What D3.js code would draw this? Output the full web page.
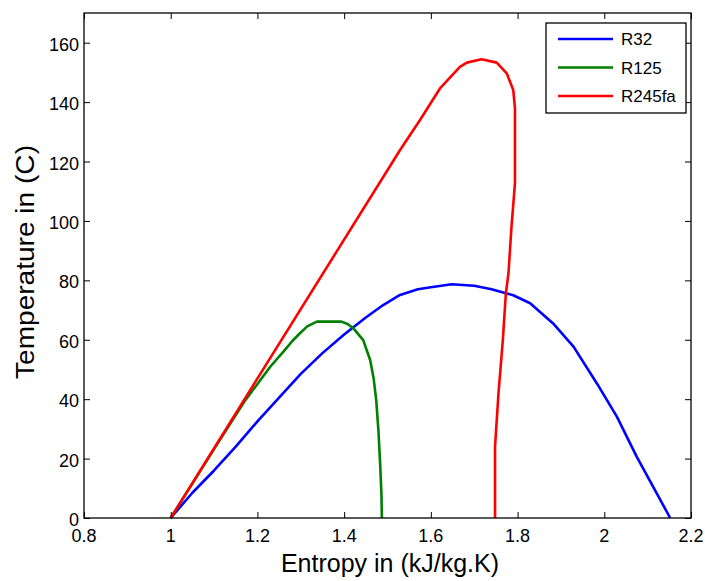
<!DOCTYPE html>
<html><head><meta charset="utf-8">
<script src="https://cdn.jsdelivr.net/npm/d3@7/dist/d3.min.js"></script>
<style>body{margin:0;background:#fff;} svg{display:block;font-family:"Liberation Sans",Arial,sans-serif;}</style>
</head><body>
<svg id="c" width="705" height="581"></svg>
<script>
const seriesNames = ["R32", "R125", "R245fa"];
const seriesColors = ["#0000ff", "#008000", "#ff0000"];
const r32S = [1.0, 1.05, 1.1, 1.15, 1.2, 1.25, 1.3, 1.35, 1.4, 1.45, 1.49, 1.529, 1.57, 1.6, 1.648, 1.70, 1.74, 1.79, 1.829, 1.882, 1.929, 1.983, 2.029, 2.075, 2.121, 2.152];
const r32T = [0, 8.5, 16, 24, 32.5, 40.5, 48.5, 55.5, 61.8, 67.5, 71.7, 75.1, 77, 77.7, 78.7, 78.2, 77, 75, 72.3, 65.5, 57.7, 45.3, 34.1, 20.6, 8.3, 0];
const r125S = [1.0, 1.1, 1.17, 1.206, 1.23, 1.26, 1.28, 1.298, 1.315, 1.337, 1.394, 1.408, 1.421, 1.444, 1.46, 1.468, 1.474, 1.479, 1.483, 1.486, 1.487];
const r125T = [0, 23.2, 39.2, 46.3, 51, 56, 59.5, 62.2, 64.5, 66.1, 66.1, 65.3, 63.9, 59.9, 53.2, 47, 39.7, 29.6, 18.4, 8, 0];
const r245S = [1.0, 1.198, 1.529, 1.575, 1.621, 1.667, 1.683, 1.717, 1.752, 1.775, 1.79, 1.794, 1.794, 1.786, 1.779, 1.773, 1.766, 1.756, 1.748, 1.748];
const r245T = [0, 46.5, 123.9, 134, 144.6, 151.9, 153.3, 154.4, 153.3, 149.7, 144.1, 137.9, 112.7, 98.1, 82.4, 75.6, 59.9, 42, 24, 0];
const xTicks = [0.8, 1, 1.2, 1.4, 1.6, 1.8, 2, 2.2];
const yTicks = [0, 20, 40, 60, 80, 100, 120, 140, 160];
const xLabel = "Entropy in (kJ/kg.K)";
const yLabel = "Temperature in (C)";

const FONT = '"Liberation Sans",Arial,sans-serif';
const svg = d3.select("#c");
const L = 84, R = 691, T = 13, B = 518;
const x = d3.scaleLinear().domain([0.8, 2.2]).range([L, R]);
const y = d3.scaleLinear().domain([0, 170]).range([B, T]);

const series = [
  {S: r32S, T: r32T}, {S: r125S, T: r125T}, {S: r245S, T: r245T}
];
const line = d3.line().x(d => x(d[0])).y(d => y(d[1]));
series.forEach((s, i) => {
  const pts = s.S.map((v, j) => [v, s.T[j]]);
  svg.append("path").attr("d", line(pts)).attr("fill", "none")
    .attr("stroke", seriesColors[i]).attr("stroke-width", 2.6).attr("stroke-linejoin", "round");
});

// axes (inward ticks, Matlab style)
const mk = (g, ax) => { g.call(ax); g.select(".domain").remove(); g.selectAll("line").attr("stroke", "#000"); g.selectAll("text").remove(); };
mk(svg.append("g").attr("transform", `translate(0,${B})`), d3.axisBottom(x).tickValues(xTicks).tickSize(-6).tickFormat(""));
mk(svg.append("g").attr("transform", `translate(0,${T})`), d3.axisTop(x).tickValues(xTicks).tickSize(-6).tickFormat(""));
mk(svg.append("g").attr("transform", `translate(${L},0)`), d3.axisLeft(y).tickValues(yTicks).tickSize(-6).tickFormat(""));
mk(svg.append("g").attr("transform", `translate(${R},0)`), d3.axisRight(y).tickValues(yTicks).tickSize(-6).tickFormat(""));
svg.append("rect").attr("x", L).attr("y", T).attr("width", R - L).attr("height", B - T)
  .attr("fill", "none").attr("stroke", "#000").attr("stroke-width", 1.3);

const TS = 18;
xTicks.forEach(v => {
  svg.append("text").attr("x", x(v)).attr("y", 541.5)
    .attr("text-anchor", "middle").attr("font-size", TS).style("font-family", FONT).text(String(v));
});
yTicks.forEach(v => {
  svg.append("text").attr("x", 79).attr("y", y(v) + 1.5)
    .attr("text-anchor", "end").attr("dy", "0.36em").attr("font-size", TS).style("font-family", FONT).text(String(v));
});

svg.append("text").attr("transform", `translate(390,572)`).attr("text-anchor", "middle")
  .attr("font-size", 25).style("font-family", FONT).text(xLabel);
svg.append("text").attr("transform", `translate(34,262) scale(1,1.08) rotate(-90)`).attr("text-anchor", "middle")
  .attr("font-size", 26).style("font-family", FONT).text(yLabel);

// legend
const lg = svg.append("g");
lg.append("rect").attr("x", 546).attr("y", 23).attr("width", 140).attr("height", 90)
  .attr("fill", "#fff").attr("stroke", "#000").attr("stroke-width", 1.3);
seriesNames.forEach((n, i) => {
  const yy = 39 + i * 28.5;
  lg.append("line").attr("x1", 558).attr("x2", 613).attr("y1", yy).attr("y2", yy)
    .attr("stroke", seriesColors[i]).attr("stroke-width", 2.6);
  lg.append("text").attr("x", 621).attr("y", yy).attr("dy", "0.36em").attr("font-size", 17).style("font-family", FONT).text(n);
});
</script>
</body></html>
